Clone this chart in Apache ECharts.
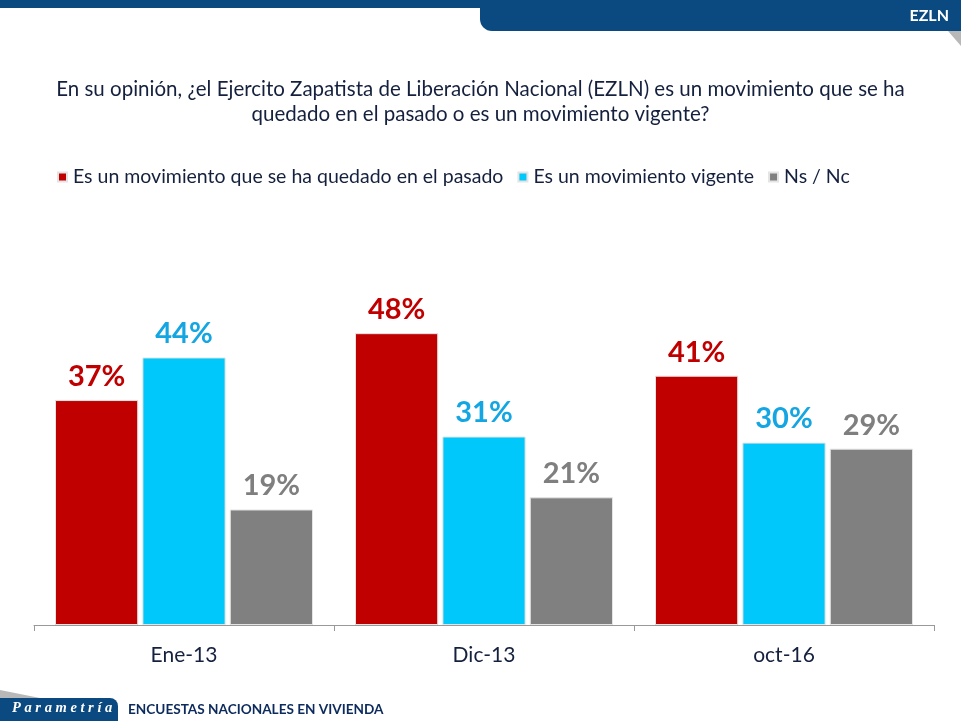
<!DOCTYPE html>
<html>
<head>
<meta charset="utf-8">
<script src="https://cdn.jsdelivr.net/npm/echarts@6/dist/echarts.min.js"></script>
<style>
html,body{margin:0;padding:0;background:#fff;}
#c{width:961px;height:721px;}
</style>
</head>
<body>
<div id="c"></div>
<script>
const categories = ['Ene-13', 'Dic-13', 'oct-16'];
const seriesNames = ['Es un movimiento que se ha quedado en el pasado', 'Es un movimiento vigente', 'Ns / Nc'];
const pasado = [37, 48, 41];
const vigente = [44, 31, 30];
const nsnc = [19, 21, 29];
const titleText = 'En su opinión, ¿el Ejercito Zapatista de Liberación Nacional (EZLN) es un movimiento que se ha\nquedado en el pasado o es un movimiento vigente?';

const FONT = 'Lato, "Open Sans", sans-serif';
const NAVY = '#0b4a80';
const barColors = ['#c00000', '#00c8fa', '#808080'];
const labelColors = ['#c00000', '#14a6e2', '#7f7f7f'];
const data = [pasado, vigente, nsnc];

const chart = echarts.init(document.getElementById('c'), null, {renderer: 'canvas'});

const series = seriesNames.map((name, i) => ({
  name: name,
  type: 'bar',
  data: data[i],
  barGap: '5%',
  barCategoryGap: '14%',
  itemStyle: {color: barColors[i], borderColor: '#e4e4e4', borderWidth: 1},
  label: {
    show: true,
    position: 'top',
    distance: 9,
    formatter: '{c}%',
    fontFamily: FONT,
    fontWeight: 'bold',
    fontSize: 29,
    color: labelColors[i]
  }
}));

chart.setOption({
  backgroundColor: '#ffffff',
  animation: false,
  title: {
    text: titleText,
    left: 'center',
    top: 72,
    textStyle: {fontFamily: FONT, fontSize: 20.5, fontWeight: 'normal', color: '#14203d', lineHeight: 25}
  },
  legend: {
    left: 52,
    top: 162,
    itemWidth: 9,
    itemHeight: 9,
    itemGap: 14,
    icon: 'rect',
    textStyle: {fontFamily: FONT, fontSize: 19.5, color: '#14203d', padding: [0, 0, 0, 1]},
    data: seriesNames
  },
  grid: {left: 34, right: 27, top: 321, bottom: 96, containLabel: false},
  xAxis: {
    type: 'category',
    data: categories,
    axisLine: {lineStyle: {color: '#999999', width: 1}},
    axisTick: {show: true, length: 6, lineStyle: {color: '#999999'}},
    axisLabel: {fontFamily: FONT, fontSize: 21, color: '#14203d', margin: 20}
  },
  yAxis: {
    type: 'value',
    min: 0,
    max: 50,
    show: false,
    splitLine: {show: false}
  },
  series: series,
  graphic: [
    {
      type: 'rect',
      shape: {x: 0, y: 0, width: 961, height: 8},
      style: {fill: NAVY},
      silent: true
    },
    {
      type: 'rect',
      shape: {x: 480, y: -12, width: 500, height: 43, r: [0, 0, 0, 12]},
      style: {fill: NAVY},
      silent: true
    },
    {
      type: 'polygon',
      shape: {points: [[800, 31], [948, 31], [961, 46], [961, 31]]},
      style: {fill: '#b8b8b8'},
      silent: true
    },
    {
      type: 'text',
      right: 12,
      top: 8,
      style: {text: 'EZLN', fill: '#ffffff', font: 'bold 16px ' + FONT},
      silent: true
    },
    {
      type: 'polygon',
      shape: {points: [[0, 690], [40, 698], [0, 698]]},
      style: {fill: '#b8b8b8'},
      silent: true
    },
    {
      type: 'rect',
      shape: {x: -10, y: 698, width: 128, height: 30, r: [0, 8, 0, 0]},
      style: {fill: NAVY},
      silent: true
    },
    {
      type: 'text',
      left: 12,
      top: 701,
      style: {text: 'P a r a m e t r í a', fill: '#ffffff', font: 'italic bold 14.5px "Liberation Serif", serif'},
      silent: true
    },
    {
      type: 'text',
      left: 128,
      top: 703,
      style: {text: 'ENCUESTAS NACIONALES EN VIVIENDA', fill: '#0c2a5c', font: 'bold 13.6px ' + FONT},
      silent: true
    }
  ]
});
</script>
</body>
</html>
